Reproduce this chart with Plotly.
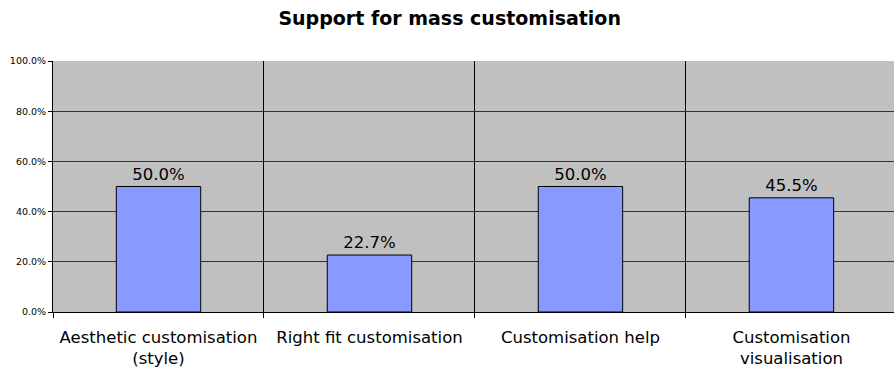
import plotly.graph_objects as go

categories = ["Aesthetic customisation<br>(style)", "Right fit customisation",
              "Customisation help", "Customisation<br>visualisation"]
values = [0.500, 0.227, 0.500, 0.455]
y_ticks = [0.0, 0.2, 0.4, 0.6, 0.8, 1.0]

positions = list(range(len(categories)))

fig = go.Figure(
    go.Bar(
        x=positions,
        y=values,
        width=0.4,
        marker=dict(color="#8899FF", line=dict(color="black", width=1)),
        text=[f"{v:.1%}" for v in values],
        textposition="outside",
        textfont=dict(family="DejaVu Sans", size=16.5, color="black"),
        cliponaxis=False,
    )
)

fig.update_layout(
    width=894,
    height=369,
    margin=dict(l=53, r=0, t=61, b=57),
    paper_bgcolor="white",
    plot_bgcolor="#C0C0C0",
    showlegend=False,
    title=dict(
        text="<b>Support for mass customisation</b>",
        x=0.503, xanchor="center", y=0.95, yanchor="middle",
        font=dict(family="DejaVu Sans", size=19, color="black"),
    ),
    bargap=0.6,
)

fig.update_xaxes(
    range=[-0.5, 3.486],
    tickvals=positions,
    ticktext=categories,
    ticks="",
    ticklabelstandoff=10,
    showgrid=False,
    zeroline=False,
    showline=True,
    linecolor="black",
    linewidth=1,
    tickfont=dict(family="DejaVu Sans", size=16.5, color="black"),
    minor=dict(tick0=-0.5, dtick=1, showgrid=True, gridcolor="black",
               gridwidth=1, ticks="outside", ticklen=5, tickcolor="black"),
)

fig.update_yaxes(
    range=[0, 1],
    tickvals=y_ticks,
    tickformat=".1%",
    ticks="outside",
    ticklen=4,
    tickcolor="black",
    showgrid=True,
    gridcolor="#333333",
    gridwidth=1,
    zeroline=False,
    showline=True,
    linecolor="black",
    linewidth=1,
    mirror=False,
    tickfont=dict(family="DejaVu Sans", size=9.5, color="black"),
)

fig.write_html("out.html")
